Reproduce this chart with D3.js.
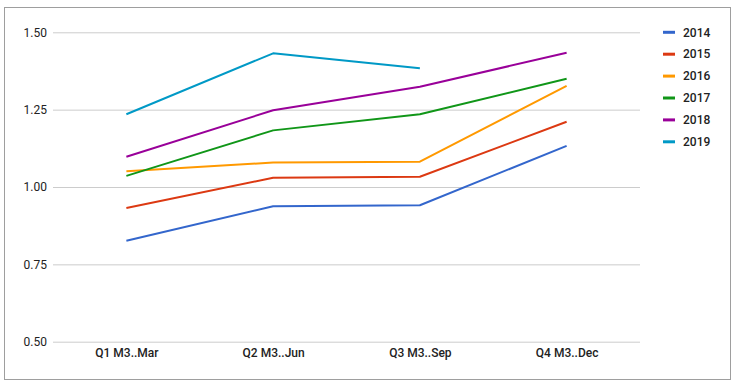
<!DOCTYPE html>
<html><head><meta charset="utf-8">
<script src="https://cdn.jsdelivr.net/npm/d3@7"></script>
<style>
html,body{margin:0;padding:0;background:#fff;}
svg{display:block;font-family:Roboto,"Noto Sans",sans-serif;}
</style></head>
<body>
<svg id="chart" width="736" height="386"></svg>
<script>
const categories = ["Q1 M3..Mar", "Q2 M3..Jun", "Q3 M3..Sep", "Q4 M3..Dec"];
const seriesNames = ["2014", "2015", "2016", "2017", "2018", "2019"];
const v2014 = [0.826, 0.938, 0.941, 1.133];
const v2015 = [0.932, 1.030, 1.033, 1.211];
const v2016 = [1.051, 1.079, 1.082, 1.327];
const v2017 = [1.036, 1.183, 1.235, 1.350];
const v2018 = [1.098, 1.248, 1.324, 1.434];
const v2019 = [1.235, 1.432, 1.384, null];
const yTicks = [0.50, 0.75, 1.00, 1.25, 1.50];
const colors = ["#3366cc", "#dc3912", "#ff9900", "#109618", "#990099", "#0099c6"];

const seriesValues = [v2014, v2015, v2016, v2017, v2018, v2019];
const svg = d3.select("#chart");

// outer border
svg.append("rect").attr("x", 4.5).attr("y", 7.5).attr("width", 726).attr("height", 372)
  .attr("fill", "none").attr("stroke", "#9e9e9e").attr("stroke-width", 1);

const plotLeft = 53, plotRight = 640, plotTop = 32.3, plotBottom = 341.7;
const x = d3.scalePoint().domain(categories).range([plotLeft, plotRight]).padding(0.5);
const y = d3.scaleLinear().domain([0.5, 1.5]).range([plotBottom, plotTop]);

// grid + y labels
const yAxis = d3.axisLeft(y).tickValues(yTicks).tickFormat(d3.format(".2f"))
  .tickSize(-(plotRight - plotLeft)).tickPadding(6);
const gy = svg.append("g").attr("transform", `translate(${plotLeft},0)`).call(yAxis);
gy.select(".domain").remove();
gy.selectAll(".tick line").attr("stroke", "#cccccc").attr("stroke-width", 1);
gy.selectAll(".tick text").attr("fill", "#222").attr("font-size", 12)
  .attr("font-family", "Roboto, sans-serif");

// x labels
const xAxis = d3.axisBottom(x).tickSize(0).tickPadding(7);
const gx = svg.append("g").attr("transform", `translate(0,${plotBottom})`).call(xAxis);
gx.select(".domain").remove();
gx.selectAll(".tick text").attr("fill", "#222").attr("font-size", 12)
  .attr("font-weight", 500).attr("font-family", "Roboto, sans-serif");

// lines
const line = d3.line()
  .defined(d => d.v !== null)
  .x(d => x(d.c)).y(d => y(d.v));
seriesValues.forEach((vals, i) => {
  const pts = vals.map((v, j) => ({c: categories[j], v}));
  svg.append("path").datum(pts).attr("d", line)
    .attr("fill", "none").attr("stroke", colors[i]).attr("stroke-width", 2)
    .attr("stroke-linejoin", "round");
});

// legend
const lg = svg.append("g");
seriesNames.forEach((name, i) => {
  const yy = 32.3 + i * 21.9;
  lg.append("line").attr("x1", 663).attr("x2", 675).attr("y1", yy).attr("y2", yy)
    .attr("stroke", colors[i]).attr("stroke-width", 3);
  lg.append("text").attr("x", 683).attr("y", yy).attr("dy", "0.35em")
    .attr("font-size", 12).attr("font-weight", 500).attr("fill", "#222").text(name);
});
</script>
</body></html>
